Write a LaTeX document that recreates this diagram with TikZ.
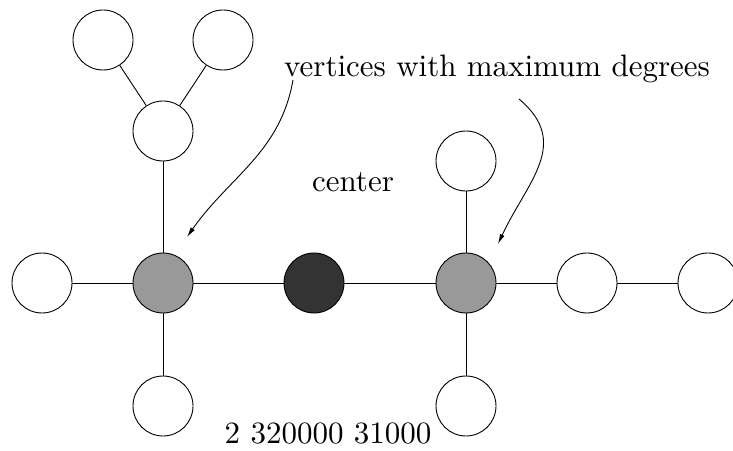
\documentclass[tikz,border=0pt]{standalone}
\usepackage{tikz}
\usetikzlibrary{positioning,arrows.meta}

\begin{document}
\begin{tikzpicture}[x=1pt,y=1pt,
    vtx/.style={circle,draw,line width=0.9pt,minimum size=60pt,inner sep=0pt,fill=white},
    hub/.style={vtx,fill=black!40},
    mid/.style={vtx,fill=black!80},
    edge/.style={line width=0.9pt},
    lbl/.style={scale=3.1,inner sep=0pt}]
    \useasboundingbox (0,0) rectangle (733,450);

    % Vertices
    \node[vtx] (ta) at (103,410) {};
    \node[vtx] (tb) at (223,410) {};
    \node[vtx] (tm) at (163,319) {};
    \node[vtx] (l)  at (42,167) {};
    \node[hub] (gl) at (163,167) {};
    \node[mid] (c)  at (314,167) {};
    \node[hub] (gr) at (466,167) {};
    \node[vtx] (r1) at (587,167) {};
    \node[vtx] (r2) at (708,167) {};
    \node[vtx] (gt) at (466,289) {};
    \node[vtx] (bl) at (163,44) {};
    \node[vtx] (br) at (466,44) {};

    % Edges
    \draw[edge] (ta) -- (tm);
    \draw[edge] (tb) -- (tm);
    \draw[edge] (tm) -- (gl);
    \draw[edge] (l) -- (gl);
    \draw[edge] (gl) -- (c);
    \draw[edge] (c) -- (gr);
    \draw[edge] (gr) -- (r1);
    \draw[edge] (r1) -- (r2);
    \draw[edge] (gr) -- (gt);
    \draw[edge] (gl) -- (bl);
    \draw[edge] (gr) -- (br);

    % Labels
    \node[lbl,anchor=base] (maxdeg) at (497,373) {vertices with maximum degrees};
    \node[lbl,anchor=base] (ctr) at (353,258) {center};
    \node[lbl,anchor=base] (seq) at (328,7) {2 320000 31000};

    % Arrows
    \coordinate (a1) at (293,370);
    \coordinate (b1) at (187,213);
    \coordinate (a2) at (519,351);
    \coordinate (b2) at (498,206);
    \draw[-{Latex[length=10pt,width=5pt]},edge] (a1) to[out=-100,in=55] (b1);
    \draw[-{Latex[length=10pt,width=5pt]},edge] (a2) to[out=-40,in=65,looseness=1.2] (b2);

\end{tikzpicture}
\end{document}
